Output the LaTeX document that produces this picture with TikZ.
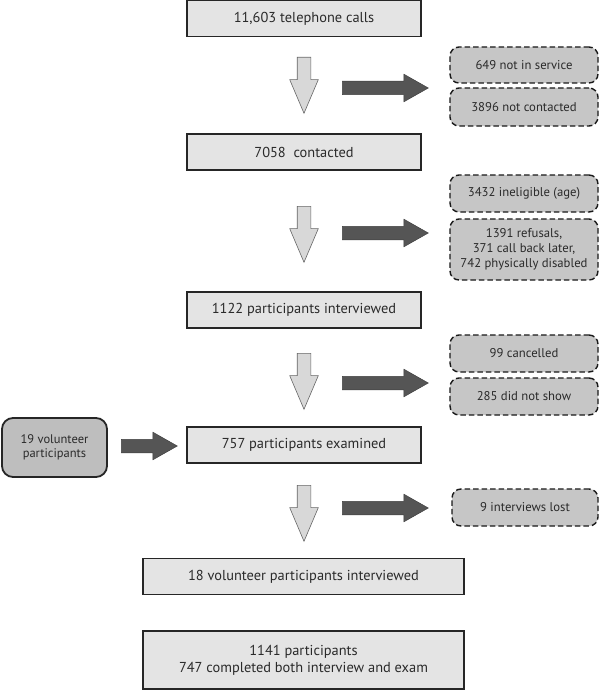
\documentclass[tikz,border=0pt]{standalone}
\usepackage{fontspec}
\setmainfont{PT Sans}
\usetikzlibrary{shapes.arrows}

\definecolor{boxgray}{HTML}{E4E4E4}
\definecolor{lossgray}{HTML}{C6C6C6}
\definecolor{volgray}{HTML}{BEBEBE}
\definecolor{arrdark}{HTML}{555555}
\definecolor{arrlight}{HTML}{D8D8D8}
\definecolor{txt}{HTML}{2A2A2A}

\tikzset{
  stagebox/.style={draw=black!85, line width=1.3pt, fill=boxgray, text=txt,
    minimum width=234pt, minimum height=36pt, inner sep=0pt, align=center,
    font=\fontsize{14.4}{17}\selectfont},
  lossbox/.style={draw=black!90, line width=1.4pt, dash pattern=on 5.5pt off 3pt,
    fill=lossgray, rounded corners=9pt, text=txt, minimum width=148pt,
    minimum height=37pt, inner sep=0pt, align=center,
    font=\fontsize{12.7}{15}\selectfont},
  volbox/.style={draw=black!85, line width=1.8pt, fill=volgray,
    rounded corners=11pt, text=txt, minimum width=105pt, minimum height=59pt,
    inner sep=0pt, align=center, font=\fontsize{12.5}{14}\selectfont},
  downarr/.style={single arrow, shape border rotate=270, draw=black!60,
    line width=0.6pt, fill=arrlight, inner sep=6.5pt, minimum height=56pt,
    single arrow head extend=7.5pt, single arrow tip angle=46, anchor=tail},
  sidearr/.style={single arrow, draw=black!75, line width=0.5pt, fill=arrdark,
    inner sep=6.5pt, minimum height=86pt, single arrow head extend=7pt,
    single arrow tip angle=59, anchor=tail}
}

\begin{document}
\begin{tikzpicture}[x=1pt,y=-1pt]
  \useasboundingbox (0,0) rectangle (600,690);

  % main stages
  \node[stagebox] (calls) at (304,18.5) {11,603 telephone calls};
  \node[stagebox] (contact) at (304,152) {7058 \ contacted};
  \node[stagebox] (interv) at (304,310) {1122 participants interviewed};
  \node[stagebox] (exam) at (304,445) {757 participants examined};
  \node[stagebox, minimum width=321pt] (volint) at (303.5,576.5)
    {18 volunteer participants interviewed};
  \node[stagebox, minimum width=321pt, minimum height=58pt] (total) at (303.5,660)
    {1141 participants\\747 completed both interview and exam};

  % losses
  \node[lossbox, minimum height=36pt] (noserv) at (524,65) {649 not in service};
  \node[lossbox, minimum height=38pt] (nocont) at (524,107) {3896 not contacted};
  \node[lossbox] (inelig) at (524,193.5) {3432 ineligible (age)};
  \node[lossbox, minimum height=61pt] (refuse) at (524,249.5)
    {1391 refusals,\\371 call back later,\\742 physically disabled};
  \node[lossbox] (cancel) at (524,353.5) {99 cancelled};
  \node[lossbox] (noshow) at (524,396.5) {285 did not show};
  \node[lossbox, minimum width=146pt] (lost) at (525,507.5) {9 interviews lost};

  \node[volbox] (vol) at (54.5,447.5) {19 volunteer\\participants};

  % block arrows
  \foreach \y/\n in {57/1,206/2,353/3,485/4}
    \node[downarr] (down\n) at (304,\y) {};
  \foreach \y/\n in {88/1,233/2,383/3,508/4}
    \node[sidearr] (side\n) at (342,\y) {};
  \node[sidearr, minimum height=56pt] (volarr) at (121,446) {};
\end{tikzpicture}
\end{document}
